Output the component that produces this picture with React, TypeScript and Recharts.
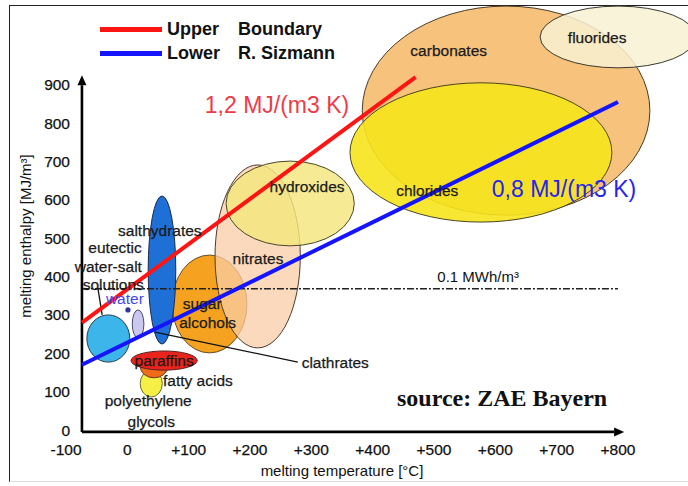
import React from 'react';
import {
  ComposedChart, Line, Scatter, XAxis, YAxis, ReferenceArea, ReferenceLine, ReferenceDot, Legend,
} from 'recharts';

// axes
const xTicks = [-100, 0, 100, 200, 300, 400, 500, 600, 700, 800];
const yTicks = [0, 100, 200, 300, 400, 500, 600, 700, 800, 900];

// material classes, drawn back to front (bounding box in °C and MJ/m3)
const groupNames = [
  'carbonates', 'chlorides', 'fluorides', 'sugar alcohols', 'nitrates', 'hydroxides',
  'salthydrates', 'eutectic', 'water', 'polyethylene glycols', 'fatty acids', 'paraffins',
];
const tempLow = [383, 363, 673, 73, 143, 161, 34, -66, 8, 21, 21, 6];
const tempHigh = [852, 790, 927, 195, 282, 370, 79, 4, 27, 57, 66, 114];
const enthalpyLow = [560, 542, 944, 201, 214, 480, 224, 177, 240, 86, 136, 156];
const enthalpyHigh = [1105, 905, 1105, 456, 691, 701, 610, 300, 313, 156, 196, 206];

// boundary lines (°C, MJ/m3)
const upperBoundary = [{ x: -74, y: 280 }, { x: 470, y: 920 }];
const lowerBoundary = [{ x: -74, y: 170 }, { x: 800, y: 855 }];
const energyLevel = 368; // 0.1 MWh/m3 line

// text annotations
const labelTexts = [
  'carbonates', 'fluorides', 'chlorides', 'hydroxides', 'nitrates', 'sugar', 'alcohols',
  'salthydrates', 'eutectic', 'water-salt', 'solutions', 'water', 'paraffins', 'fatty acids',
  'polyethylene', 'glycols', 'clathrates',
];
const labelTemps = [524, 766, 489, 293, 213, 122, 131, 53, -20, -31, -23, -4, 60, 115, 34, 39, 339];
const labelEnthalpies = [990, 1022, 623, 636, 448, 331, 281, 521, 477, 425, 378, 344, 182, 130, 76, 23, 177];

const FONT = '"Liberation Sans", Arial, sans-serif';

const groupStyle: Record<string, { fill: string; opacity: number; stroke: string }> = {
  carbonates: { fill: '#f6c27c', opacity: 1, stroke: '#4a3c28' },
  chlorides: { fill: '#f7e41c', opacity: 0.9, stroke: '#4a4420' },
  fluorides: { fill: '#f8f1d2', opacity: 0.85, stroke: '#3a3a30' },
  'sugar alcohols': { fill: '#f4a21f', opacity: 1, stroke: '#6a4c28' },
  nitrates: { fill: '#f9cca6', opacity: 0.75, stroke: '#4a3c30' },
  hydroxides: { fill: '#f4e67c', opacity: 0.82, stroke: '#4a4628' },
  salthydrates: { fill: '#1e6fd6', opacity: 1, stroke: '#1a2a50' },
  eutectic: { fill: '#3cb6ea', opacity: 1, stroke: '#2a3a4a' },
  water: { fill: '#cac8ef', opacity: 1, stroke: '#4a4a6a' },
  'polyethylene glycols': { fill: '#f6ef45', opacity: 1, stroke: '#6a6a30' },
  'fatty acids': { fill: '#ef6c18', opacity: 1, stroke: '#6a3a20' },
  paraffins: { fill: '#e8241c', opacity: 1, stroke: '#5a2020' },
};

const labelData = labelTexts.map((t, i) => ({ x: labelTemps[i], y: labelEnthalpies[i], text: t }));

const noteData = [
  { x: 244, y: 847, text: '1,2 MJ/(m3 K)' },
  { x: 712, y: 628, text: '0,8 MJ/(m3 K)' },
  { x: 572, y: 401, text: '0.1 MWh/m³' },
  { x: 611, y: 83, text: 'source: ZAE Bayern' },
];
const noteStyle: Record<string, any> = {
  '1,2 MJ/(m3 K)': { fill: '#ee3b48', fontSize: 23, fontFamily: FONT },
  '0,8 MJ/(m3 K)': { fill: '#2424ee', fontSize: 23, fontFamily: FONT },
  '0.1 MWh/m³': { fill: '#111', fontSize: 15, fontFamily: FONT },
  'source: ZAE Bayern': { fill: '#111', fontSize: 24, fontWeight: 'bold', fontFamily: '"Liberation Serif", "Times New Roman", serif' },
};

const ellipse = (p: any, name: string) => {
  const s = groupStyle[name];
  const w = Math.abs(p.width);
  const h = Math.abs(p.height);
  const x = Math.min(p.x, p.x + p.width);
  const y = Math.min(p.y, p.y + p.height);
  return (
    <ellipse cx={x + w / 2} cy={y + h / 2} rx={w / 2} ry={h / 2}
      fill={s.fill} fillOpacity={s.opacity} stroke={s.stroke} strokeWidth={1} />
  );
};

const arrowLine = (p: any) => {
  const { x1, y1, x2, y2 } = p;
  const a = Math.atan2(y2 - y1, x2 - x1);
  const L = 10;
  const W = 4.5;
  const bx = x2 - L * Math.cos(a);
  const by = y2 - L * Math.sin(a);
  const pts = [
    `${x2},${y2}`,
    `${bx + W * Math.sin(a)},${by - W * Math.cos(a)}`,
    `${bx - W * Math.sin(a)},${by + W * Math.cos(a)}`,
  ].join(' ');
  return (
    <g>
      <line x1={x1} y1={y1} x2={bx} y2={by} stroke="#000" strokeWidth={2.6} />
      <polygon points={pts} fill="#000" />
    </g>
  );
};

const labelShape = (p: any) => {
  const t = p.payload.text;
  return (
    <text x={p.cx} y={p.cy} textAnchor="middle" dominantBaseline="central"
      fontSize={15.5} fontFamily={FONT} fill={t === 'water' ? '#4646e6' : '#1a1a1a'}
      stroke={t === 'water' ? 'none' : '#1a1a1a'} strokeWidth={0.25}>
      {t}
    </text>
  );
};

const noteShape = (p: any) => {
  const t = p.payload.text;
  return (
    <text x={p.cx} y={p.cy} textAnchor="middle" dominantBaseline="central" {...noteStyle[t]}>
      {t}
    </text>
  );
};

const xTick = (p: any) => {
  const v = p.payload.value;
  return (
    <text x={p.x} y={p.y + 19} textAnchor="middle" dominantBaseline="central"
      fontSize={15.5} fontFamily={FONT} fill="#111" stroke="#111" strokeWidth={0.25}>
      {v > 0 ? `+${v}` : `${v}`}
    </text>
  );
};

const yTick = (p: any) => (
  <text x={p.x + 4} y={p.y} textAnchor="end" dominantBaseline="central"
    fontSize={15.5} fontFamily={FONT} fill="#111" stroke="#111" strokeWidth={0.25}>
    {p.payload.value}
  </text>
);

const legendRows = [
  { color: '#ff1414', a: 'Upper', b: 'Boundary' },
  { color: '#1414ff', a: 'Lower', b: 'R. Sizmann' },
];

const legendContent = () => (
  <div style={{ fontFamily: FONT, fontWeight: 'bold', fontSize: 18, color: '#111' }}>
    {legendRows.map((r) => (
      <div key={r.a} style={{ display: 'flex', alignItems: 'center', height: 24 }}>
        <span style={{ display: 'inline-block', width: 62, height: 5, background: r.color, marginRight: 5 }} />
        <span style={{ display: 'inline-block', width: 71 }}>{r.a}</span>
        <span>{r.b}</span>
      </div>
    ))}
  </div>
);

export default function App() {
  return (
    <div style={{ position: 'absolute', left: 0, top: 0, width: 688, height: 486, background: '#fff', overflow: 'hidden' }}>
      <div style={{
        position: 'absolute', left: 9, top: 5, width: 679, height: 475,
        borderTop: '1px solid #222', borderLeft: '1px solid #222', borderBottom: '1px solid #ddd',
      }} />
      <ComposedChart width={688} height={486} margin={{ top: 8, right: 70, bottom: 0, left: 0 }}
        style={{ fontFamily: FONT }}>
        <XAxis dataKey="x" type="number" domain={[-100, 800]} ticks={xTicks}
          axisLine={false} tickLine={false} tickSize={0} tickMargin={0} height={56} tick={xTick}
          label={{ value: 'melting temperature [°C]', position: 'insideBottom', offset: 10, fontSize: 15, fill: '#111' }} />
        <YAxis dataKey="y" type="number" domain={[0, 1100]} ticks={yTicks}
          axisLine={false} tickLine={false} tickSize={0} tickMargin={0} width={66} tick={yTick}
          label={{
            content: (p: any) => {
              const vb = p.viewBox || { x: 0, y: 8, height: 422 };
              const cx = vb.x + 25;
              const cy = vb.y + vb.height / 2 + 17;
              return (
                <text x={cx} y={cy} transform={`rotate(-90 ${cx} ${cy})`} textAnchor="middle"
                  dominantBaseline="central" fontSize={15} fontFamily={FONT} fill="#111">
                  melting enthalpy [MJ/m³]
                </text>
              );
            },
          }} />
        <Legend layout="horizontal" verticalAlign="middle" align="center" content={legendContent}
          wrapperStyle={{ position: 'absolute', top: 17, left: 100, width: 300 }} />

        {groupNames.map((g, i) => (
          <ReferenceArea key={g} x1={tempLow[i]} x2={tempHigh[i]} y1={enthalpyLow[i]} y2={enthalpyHigh[i]}
            ifOverflow="visible" shape={(p: any) => ellipse(p, g)} />
        ))}
        <ReferenceDot x={1} y={313} r={2.6} fill="#3434a0" stroke="none" ifOverflow="visible" />

        <ReferenceLine segment={[{ x: -74, y: energyLevel }, { x: 800, y: energyLevel }]}
          stroke="#222" strokeWidth={1.6} strokeDasharray="7 2 2 2" ifOverflow="visible" />
        <ReferenceLine segment={[{ x: 45, y: 255 }, { x: 278, y: 177 }]} stroke="#111" strokeWidth={1.3} ifOverflow="visible" />
        <ReferenceLine segment={[{ x: -48, y: 370 }, { x: -41, y: 300 }]} stroke="#111" strokeWidth={1.3} ifOverflow="visible" />

        <ReferenceLine segment={[{ x: -74, y: -5 }, { x: -74, y: 925 }]} ifOverflow="visible" shape={arrowLine} />
        <ReferenceLine segment={[{ x: -74, y: -5 }, { x: 810, y: -5 }]} ifOverflow="visible" shape={arrowLine} />

        <Line data={upperBoundary} dataKey="y" type="linear" stroke="#ff1414" strokeWidth={4}
          dot={false} isAnimationActive={false} legendType="none" />
        <Line data={lowerBoundary} dataKey="y" type="linear" stroke="#1414ff" strokeWidth={4}
          dot={false} isAnimationActive={false} legendType="none" />

        <Scatter data={labelData} shape={labelShape} isAnimationActive={false} legendType="none" />
        <Scatter data={noteData} shape={noteShape} isAnimationActive={false} legendType="none" />
      </ComposedChart>
    </div>
  );
}
